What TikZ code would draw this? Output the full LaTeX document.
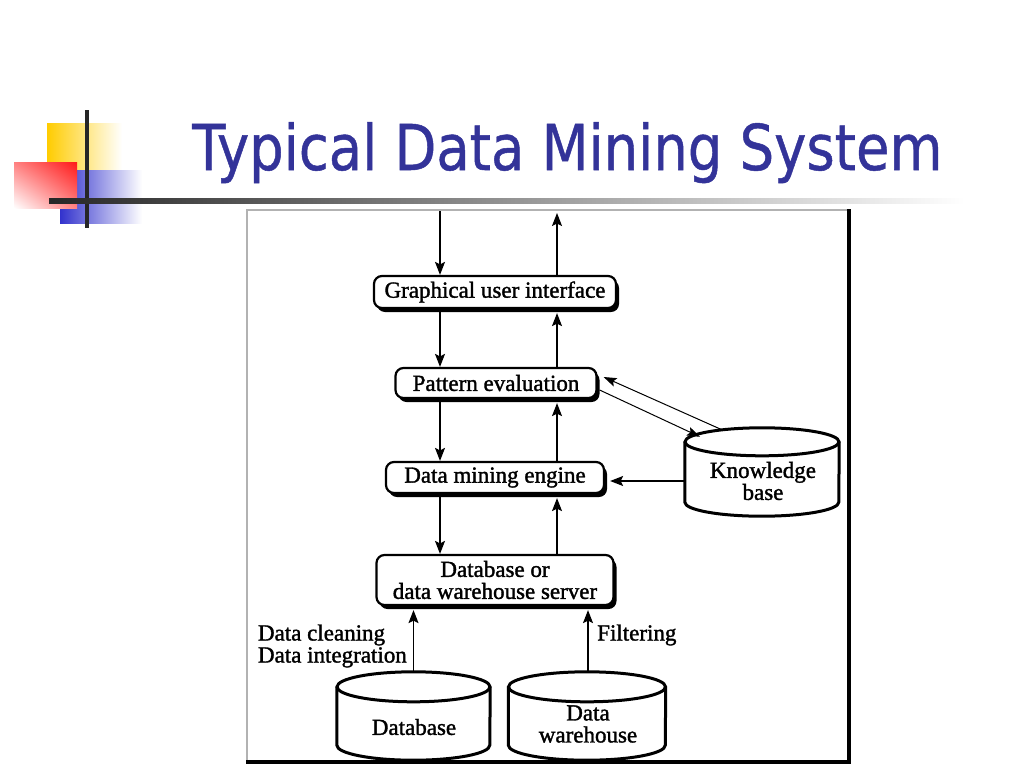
\documentclass[tikz,border=0pt]{standalone}
\usepackage{fontspec}
\setmainfont{Liberation Serif}
\newfontfamily\titlefont[FakeBold=0.8]{DejaVu Sans}
\newfontfamily\scanfont[FakeBold=1.5]{Liberation Serif}
\usetikzlibrary{calc,shadows,shadings,arrows.meta}
\definecolor{titleblue}{RGB}{51,51,153}
\definecolor{decoyellow}{RGB}{255,204,0}
\definecolor{decored}{RGB}{255,25,25}
\definecolor{decoblue}{RGB}{50,50,205}
\newcommand\diaglbl{\fontsize{23}{22}\selectfont\scanfont}
\newcommand\drawcyl[3]{%
  \draw[cylline, fill=white] ($(#1.north west)+(0,#3)$) -- ($(#1.south west)+(0,-#3)$)
     arc[start angle=180, end angle=360, x radius=#2pt, y radius=#3pt]
     -- ($(#1.north east)+(0,#3)$);
  \draw[cylline] ($(#1.north)+(0,#3)$) ellipse[x radius=#2pt, y radius=#3pt];
}
\begin{document}
\begin{tikzpicture}[x=1pt,y=-1pt,
  box/.style={draw, line width=2.2pt, rounded corners=8pt, fill=white, inner sep=0pt, font=\diaglbl,
     drop shadow={shadow xshift=3pt, shadow yshift=-4pt, fill=black, opacity=1}},
  arr/.style={line width=1.3pt, -{Stealth[length=13pt,width=10pt,inset=2.5pt]}},
  thinarr/.style={line width=1pt, -{Stealth[length=13pt,width=9pt,inset=2.5pt]}},
  cylline/.style={line width=3pt},
  txt/.style={font=\diaglbl, inner sep=0pt, align=center},
  cylarea/.style={inner sep=0pt, minimum height=88pt}
]
\useasboundingbox (0,0) rectangle (1024,768);
\fill[white] (0,0) rectangle (1024,768);

% decoration
\shade[left color=decoyellow, middle color=decoyellow, right color=white] (47,123) rectangle (122,172);
\shade[left color=decoblue, middle color=decoblue, right color=white] (60,170) rectangle (142,223);
\shade[upper right=decored, upper left=decored!55, lower right=decored!55, lower left=white] (14,162) rectangle (77,208);
\draw[black!85, line width=4pt] (87,110) -- (87,228);
\shade[left color=black!85, middle color=black!60, right color=white] (49,198) rectangle (965,203);

% title
\node[anchor=base west, inner sep=0pt, text=titleblue] (title) at (192,170)
  {\resizebox{750pt}{48pt}{\titlefont Typical Data Mining System}};

% frame
\draw[gray!60, line width=1.5pt] (849,210) -- (247,210) -- (247,761);
\draw[line width=4pt] (849,209) -- (849,762) -- (246,762);

% boxes
\node[box, minimum width=242pt, minimum height=32pt] (gui) at (495,292) {Graphical user interface};
\node[box, minimum width=201pt, minimum height=30pt] (pe) at (496,383) {Pattern evaluation};
\node[box, minimum width=218pt, minimum height=31pt] (dme) at (495,477.5) {Data mining engine};
\node[box, minimum width=237pt, minimum height=50pt, align=center] (srv) at (495,580) {Database or\\data warehouse server};

% cylinders
\node[cylarea, minimum width=154pt] (kb) at (762,472) {};
\drawcyl{kb}{77}{14}
\node[txt] (kbt) at (763,481) {Knowledge\\base};
\node[cylarea, minimum width=153pt] (db) at (413.5,716) {};
\drawcyl{db}{76.5}{15}
\node[txt] (dbt) at (414,727) {Database};
\node[cylarea, minimum width=157pt] (dw) at (587,716) {};
\drawcyl{dw}{78.5}{15}
\node[txt] (dwt) at (588,724) {Data\\warehouse};

% labels
\node[txt, align=left, anchor=east] (clean) at (407,646) {Data cleaning\\Data integration};
\node[txt, anchor=west] (filt) at (597,635) {Filtering};

% arrows
\coordinate (cin) at (440,211);
\coordinate (cout) at (557,213);
\draw[arr] (cin) -- (cin |- gui.north);
\draw[arr] (gui.north -| cout) -- (cout);
\draw[arr] (gui.south -| cin) -- (pe.north -| cin);
\draw[arr] (pe.north -| cout) -- ($(gui.south -| cout)+(0,4)$);
\draw[arr] (pe.south -| cin) -- (dme.north -| cin);
\draw[arr] (dme.north -| cout) -- ($(pe.south -| cout)+(0,4)$);
\draw[arr] (dme.south -| cin) -- (srv.north -| cin);
\draw[arr] (srv.north -| cout) -- ($(dme.south -| cout)+(0,4)$);
\draw[thinarr] ($(kb.north)+(-40,2)$) -- ($(pe.east)+(6,-6)$);
\draw[thinarr] ($(pe.east)+(2,7)$) -- ($(kb.north)+(-62,9)$);
\draw[arr] ($(kb.west)+(0,9)$) -- ($(dme.east)+(5,3.5)$);
\draw[arr] (db.north) -- ($(db.north |- srv.south)+(0,4)$);
\draw[arr] ($(dw.north)+(1,0)$) -- ($(dw.north |- srv.south)+(1,4)$);
\end{tikzpicture}
\end{document}
